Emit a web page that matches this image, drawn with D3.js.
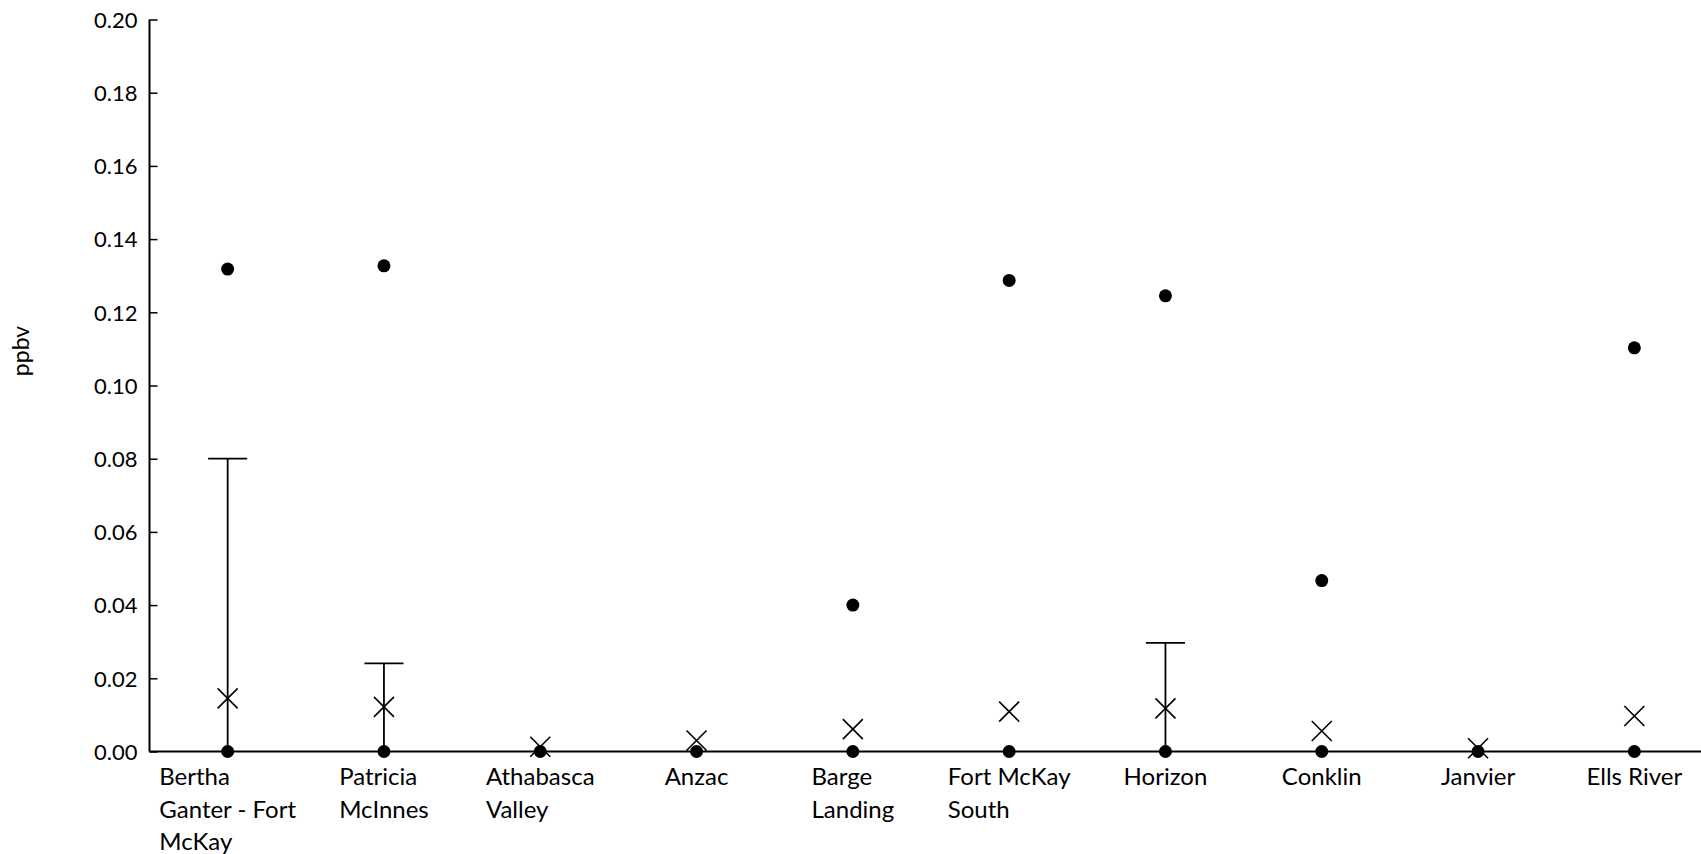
<!DOCTYPE html>
<html>
<head>
<meta charset="utf-8">
<script src="https://cdn.jsdelivr.net/npm/d3@7"></script>
<style>
  body { margin: 0; background: #fff; }
  text { font-family: Lato, "Open Sans", sans-serif; fill: #000; }
</style>
</head>
<body>
<div id="chart"></div>
<script>
var width = 1701;
var height = 854;

// sites, with the line breaks used under the axis
var sites = ['Bertha Ganter - Fort McKay', 'Patricia McInnes', 'Athabasca Valley', 'Anzac',
  'Barge Landing', 'Fort McKay South', 'Horizon', 'Conklin', 'Janvier', 'Ells River'];
var siteLines = [['Bertha', 'Ganter - Fort', 'McKay'], ['Patricia', 'McInnes'], ['Athabasca', 'Valley'],
  ['Anzac'], ['Barge', 'Landing'], ['Fort McKay', 'South'], ['Horizon'], ['Conklin'], ['Janvier'], ['Ells River']];

// box stats (ppbv)
var lowerQ = [0, 0, 0, 0, 0, 0, 0, 0, 0, 0];
var upperQ = [0, 0, 0, 0, 0, 0, 0, 0, 0, 0];
var whiskerTop = [0.080, 0.0241, 0, 0, 0, 0, 0.0297, 0, 0, 0];
var means = [0.0145, 0.0122, 0.0013, 0.0030, 0.0061, 0.0109, 0.0118, 0.0056, 0.0009, 0.0097];
var maxPoints = [0.1318, 0.1327, null, null, 0.0400, 0.1287, 0.1245, 0.0467, null, 0.1103];
var minPoints = [0, 0, 0, 0, 0, 0, 0, 0, 0, 0];

var yTicks = [0, 0.02, 0.04, 0.06, 0.08, 0.10, 0.12, 0.14, 0.16, 0.18, 0.20];

var plotLeft = 149.5, plotTop = 19.5, plotBottom = 751.5;
var band = 156.3;

var svg = d3.select("#chart")
    .append("svg")
    .attr("width", width)
    .attr("height", height);

var x = d3.scaleBand()
    .domain(sites)
    .range([plotLeft, plotLeft + band * sites.length]);

var y = d3.scaleLinear()
    .domain([0, 0.20])
    .range([plotBottom, plotTop]);

var data = sites.map(function (s, i) {
  return { site: s, lines: siteLines[i], q1: lowerQ[i], q3: upperQ[i], hi: whiskerTop[i],
    mean: means[i], max: maxPoints[i], min: minPoints[i] };
});

// y axis
var yAxis = svg.append("g")
    .attr("transform", "translate(" + plotLeft + ",0)")
    .call(d3.axisRight(y).tickValues(yTicks).tickSize(8).tickFormat(d3.format(".2f")));
yAxis.select(".domain").attr("stroke-width", 2).attr("d", "M0," + plotTop + "V" + plotBottom);
yAxis.selectAll(".tick line").attr("stroke-width", 1.5);
yAxis.selectAll(".tick text")
    .attr("x", -12)
    .attr("text-anchor", "end")
    .attr("font-size", 22)
    .attr("dy", "0.35em");

svg.append("text")
    .attr("transform", "rotate(-90)")
    .attr("x", -351)
    .attr("y", 29)
    .attr("text-anchor", "middle")
    .attr("font-size", 23)
    .text("ppbv");

// x axis line
svg.append("line")
    .attr("x1", plotLeft).attr("x2", width)
    .attr("y1", y(0)).attr("y2", y(0))
    .attr("stroke", "#000")
    .attr("stroke-width", 2);

var groups = svg.selectAll(".site")
    .data(data)
    .enter()
    .append("g")
    .attr("class", "site")
    .attr("transform", function (d) { return "translate(" + (x(d.site) + x.bandwidth() / 2) + ",0)"; });

var boxW = x.bandwidth() / 2;
var capW = x.bandwidth() / 4;

// whiskers
groups.filter(function (d) { return d.hi > d.q3; })
    .append("line")
    .attr("x1", 0).attr("x2", 0)
    .attr("y1", function (d) { return y(d.q3); })
    .attr("y2", function (d) { return y(d.hi); })
    .attr("stroke", "#000").attr("stroke-width", 1.8);
groups.filter(function (d) { return d.hi > d.q3; })
    .append("line")
    .attr("x1", -capW / 2).attr("x2", capW / 2)
    .attr("y1", function (d) { return y(d.hi); })
    .attr("y2", function (d) { return y(d.hi); })
    .attr("stroke", "#000").attr("stroke-width", 1.8);

// flat boxes
groups.append("rect")
    .attr("x", -boxW / 2)
    .attr("width", boxW)
    .attr("y", function (d) { return y(d.q3); })
    .attr("height", function (d) { return y(d.q1) - y(d.q3); })
    .attr("fill", "none")
    .attr("stroke", "#000")
    .attr("stroke-width", 1.6);

// mean crosses
groups.append("path")
    .attr("d", function (d) {
      var c = y(d.mean), s = 10;
      return "M" + (-s) + "," + (c - s) + "L" + s + "," + (c + s) + "M" + s + "," + (c - s) + "L" + (-s) + "," + (c + s);
    })
    .attr("stroke", "#000")
    .attr("stroke-width", 1.6)
    .attr("fill", "none");

// points
groups.append("circle")
    .attr("cy", function (d) { return y(d.min); })
    .attr("r", 6.5)
    .attr("fill", "#000");
groups.filter(function (d) { return d.max != null; })
    .append("circle")
    .attr("cy", function (d) { return y(d.max); })
    .attr("r", 6.5)
    .attr("fill", "#000");

// category labels: lines left aligned inside a centred block
groups.each(function (d) {
  var g = d3.select(this);
  var t = g.append("text").attr("font-size", 24);
  t.selectAll("tspan")
      .data(d.lines)
      .enter()
      .append("tspan")
      .attr("x", 0)
      .attr("y", function (l, i) { return 785 + i * 32.5; })
      .text(function (l) { return l; });
  var w = d3.max(t.selectAll("tspan").nodes(), function (n) { return n.getComputedTextLength(); });
  t.selectAll("tspan").attr("x", -w / 2);
});
</script>
</body>
</html>
